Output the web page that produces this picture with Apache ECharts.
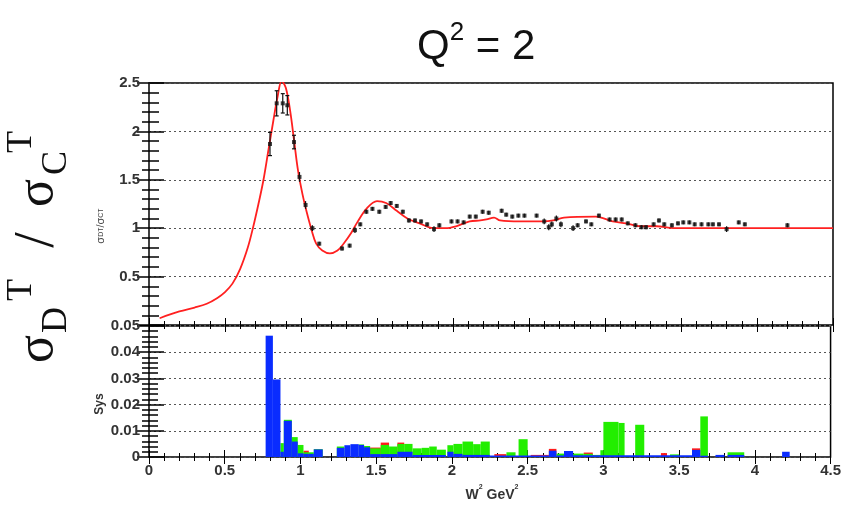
<!DOCTYPE html>
<html><head><meta charset="utf-8">
<script src="https://cdn.jsdelivr.net/npm/echarts@6/dist/echarts.min.js"></script>
<style>html,body{margin:0;padding:0;background:#fff}#c{width:844px;height:507px}</style>
</head><body><div id="c"></div>
<script>
// ---- data ----
const xTicks = [0, 0.5, 1, 1.5, 2, 2.5, 3, 3.5, 4, 4.5];
const curveX = [0.07,0.2,0.3,0.38,0.45,0.5,0.55,0.6,0.65,0.685,0.72,0.752,0.785,0.818,0.845,0.873,0.9,0.928,0.955,0.98,1.01,1.037,1.07,1.1,1.14,1.19,1.24,1.28,1.33,1.37,1.43,1.5,1.56,1.63,1.7,1.78,1.87,1.95,2.02,2.11,2.18,2.22,2.27,2.31,2.44,2.59,2.66,2.73,2.94,3.05,3.14,3.23,3.34,3.45,4.5];
const curveY = [0.07,0.14,0.18,0.22,0.28,0.34,0.43,0.58,0.8,1.01,1.25,1.49,1.8,2.11,2.35,2.52,2.45,2.22,1.9,1.6,1.35,1.17,0.98,0.84,0.77,0.74,0.77,0.84,0.95,1.06,1.2,1.28,1.26,1.18,1.1,1.05,1.0,1.0,1.02,1.07,1.08,1.09,1.11,1.08,1.07,1.07,1.08,1.11,1.12,1.07,1.05,1.02,1.02,1.0,1.0];
const ptX = [0.796,0.84,0.88,0.91,0.954,0.99,1.03,1.075,1.12,1.27,1.32,1.355,1.39,1.43,1.47,1.515,1.557,1.59,1.63,1.67,1.71,1.75,1.79,1.83,1.875,1.91,1.99,2.03,2.07,2.11,2.15,2.195,2.235,2.32,2.35,2.39,2.43,2.47,2.55,2.6,2.63,2.65,2.68,2.71,2.79,2.82,2.875,2.91,2.96,3.03,3.07,3.11,3.15,3.2,3.24,3.27,3.32,3.355,3.39,3.44,3.48,3.515,3.555,3.59,3.635,3.68,3.71,3.75,3.8,3.88,3.92,4.2];
const ptY = [1.87,2.29,2.29,2.27,1.89,1.53,1.24,1.0,0.84,0.79,0.82,0.98,1.04,1.17,1.2,1.17,1.22,1.26,1.23,1.17,1.08,1.08,1.07,1.04,0.99,1.03,1.07,1.07,1.06,1.12,1.12,1.17,1.16,1.18,1.14,1.12,1.13,1.13,1.13,1.07,1.01,1.04,1.1,1.04,1.0,1.03,1.07,1.04,1.13,1.09,1.09,1.09,1.05,1.03,1.01,1.01,1.04,1.08,1.04,1.03,1.05,1.06,1.06,1.04,1.04,1.04,1.04,1.04,0.99,1.06,1.04,1.03];
const ptErr = [0.12,0.13,0.1,0.1,0.07,0.05,0.04,0.03,0.02,0.02,0.02,0.03,0.02,0.02,0.02,0.02,0.02,0.02,0.02,0.02,0.02,0.02,0.02,0.02,0.03,0.02,0.02,0.02,0.02,0.02,0.02,0.02,0.02,0.02,0.02,0.02,0.02,0.02,0.02,0.03,0.03,0.03,0.03,0.03,0.03,0.02,0.02,0.02,0.02,0.02,0.02,0.02,0.02,0.02,0.02,0.02,0.02,0.02,0.02,0.02,0.02,0.02,0.02,0.02,0.02,0.02,0.02,0.02,0.03,0.02,0.02,0.02];
// systematic histograms: [binLow, binHigh, value]
const redBins = [[1.02,1.055,0.0024],[1.46,1.53,0.0036],[1.53,1.585,0.0055],[1.64,1.685,0.0055],[2.28,2.36,0.0011],[2.52,2.64,0.0008],[2.64,2.69,0.0031],[2.87,2.93,0.0017],[3.38,3.42,0.0015],[3.585,3.64,0.0033]];
const greenBins = [[0.868,0.89,0.0053],[0.89,0.943,0.0142],[0.943,0.982,0.0076],[0.982,1.02,0.0046],[1.02,1.055,0.0018],[1.055,1.088,0.0018],[1.088,1.147,0.003],[1.24,1.29,0.004],[1.385,1.42,0.0048],[1.42,1.46,0.0042],[1.46,1.53,0.0033],[1.53,1.585,0.0046],[1.585,1.64,0.004],[1.64,1.685,0.005],[1.685,1.74,0.005],[1.74,1.8,0.0033],[1.8,1.85,0.0035],[1.85,1.9,0.004],[1.9,1.96,0.0028],[1.97,2.01,0.0045],[2.01,2.07,0.005],[2.07,2.14,0.0059],[2.14,2.19,0.0049],[2.19,2.25,0.0059],[2.36,2.42,0.0018],[2.44,2.5,0.0068],[2.69,2.74,0.0013],[2.8,2.87,0.0013],[2.87,2.93,0.0012],[2.93,2.98,0.0008],[2.98,3.0,0.0026],[3.0,3.1,0.0134],[3.1,3.14,0.013],[3.21,3.27,0.0123],[3.44,3.5,0.001],[3.64,3.69,0.0155],[3.82,3.93,0.0018]];
const blueBins = [[0.77,0.818,0.0463],[0.818,0.868,0.0296],[0.868,0.89,0.002],[0.89,0.943,0.0138],[0.943,0.982,0.0059],[0.982,1.02,0.0014],[1.02,1.055,0.0012],[1.055,1.088,0.0012],[1.088,1.147,0.0029],[1.24,1.29,0.0035],[1.29,1.33,0.0045],[1.33,1.385,0.0049],[1.385,1.42,0.0046],[1.42,1.46,0.0037],[1.46,1.53,0.0011],[1.53,1.64,0.0011],[1.64,1.74,0.002],[1.74,1.96,0.0008],[1.97,2.01,0.002],[2.01,2.07,0.0012],[2.07,2.25,0.0008],[2.25,2.64,0.0006],[2.64,2.69,0.0024],[2.69,2.74,0.0006],[2.74,2.8,0.0023],[2.8,3.585,0.0007],[3.585,3.64,0.0027],[3.64,3.69,0.0005],[3.74,3.8,0.0008],[3.82,3.93,0.0008],[4.18,4.23,0.002]];

// ---- chart ----
const FONT = '"Liberation Sans Narrow", "Liberation Sans", sans-serif';
const SERIF = '"Liberation Serif", "DejaVu Serif", serif';
const chart = echarts.init(document.getElementById('c'));
const curveData = curveX.map((x, i) => [x, curveY[i]]);
const ptData = ptX.map((x, i) => [x, ptY[i], ptErr[i]]);

function histSeries(name, bins, color) {
  return {
    name, type: 'custom', xAxisIndex: 2, yAxisIndex: 2,
    data: bins,
    encode: { x: [0, 1], y: 2 },
    renderItem: function (params, api) {
      const p0 = api.coord([api.value(0), api.value(2)]);
      const p1 = api.coord([api.value(1), 0]);
      return { type: 'rect', shape: { x: p0[0], y: p0[1], width: p1[0] - p0[0], height: p1[1] - p0[1] }, style: { fill: color } };
    },
    z: 3
  };
}

function xAx(grid, pos, showLabel) {
  return {
    type: 'value', gridIndex: grid, position: pos, min: 0, max: 4.5, interval: 0.5,
    axisLine: { show: false },
    axisTick: { show: true, inside: true, length: 7, lineStyle: { color: '#000', width: 1 } },
    minorTick: { show: true, splitNumber: 5, length: 4, lineStyle: { color: '#000', width: 1 } },
    splitLine: { show: false },
    axisLabel: { show: showLabel, fontFamily: FONT, fontWeight: 'bold', fontSize: 15, color: '#333', margin: 6,
      formatter: v => String(v) }
  };
}
function yAx(grid, pos, min, max, interval, showLabel, split, tickLen, minorLen, labelFmt) {
  return {
    type: 'value', gridIndex: grid, position: pos, min, max, interval,
    axisLine: { show: false },
    axisTick: { show: true, inside: true, length: tickLen, lineStyle: { color: '#000', width: 1.5 } },
    minorTick: { show: true, splitNumber: 5, length: minorLen, lineStyle: { color: '#000', width: 1.5 } },
    splitLine: { show: split, lineStyle: { color: '#555', type: [2, 3], width: 1 } },
    axisLabel: { show: showLabel, fontFamily: FONT, fontWeight: 'bold', fontSize: 15, color: '#333', margin: 9, formatter: labelFmt }
  };
}
function rotText(x, y, text, size) {
  return { type: 'text', x, y, rotation: Math.PI / 2, style: {
    text, align: 'center', verticalAlign: 'middle', fontSize: size, fontFamily: SERIF, fill: '#111' } };
}

chart.setOption({
  animation: false,
  backgroundColor: '#fff',
  grid: [
    { left: 149, right: 11, top: 83, height: 242, show: true, borderColor: '#000', borderWidth: 1.5, backgroundColor: 'transparent' },
    { left: 149, right: 11, top: 326, height: 131, show: true, borderColor: '#000', borderWidth: 1.5, backgroundColor: 'transparent' }
  ],
  xAxis: [xAx(0, 'bottom', false), xAx(0, 'top', false), xAx(1, 'bottom', true), xAx(1, 'top', false)],
  yAxis: [
    yAx(0, 'left', 0, 2.5, 0.5, true, true, 15, 10, v => (v === 0 ? '' : String(v))),
    yAx(0, 'right', 0, 2.5, 0.5, false, false, 12, 7),
    yAx(1, 'left', 0, 0.05, 0.01, true, true, 15, 9, v => (Math.round(v * 100) / 100).toString()),
    yAx(1, 'right', 0, 0.05, 0.01, false, false, 12, 7)
  ],
  graphic: [
    { type: 'text', x: 417, y: 20, style: {
        text: '{a|Q}{s|2}{a| = 2}',
        rich: { a: { fontSize: 42, fontFamily: '"Liberation Sans", sans-serif', fill: '#111', lineHeight: 48, verticalAlign: 'bottom' },
                s: { fontSize: 26, fontFamily: '"Liberation Sans", sans-serif', fill: '#111', lineHeight: 48, verticalAlign: 'top', padding: [0, 0, 16, 0] } } } },
    rotText(38, 349, 'σ', 52),
    rotText(57, 320, 'D', 36),
    rotText(22, 290, 'T', 36),
    rotText(38, 240, '/', 56),
    rotText(38, 193, 'σ', 52),
    rotText(57, 163, 'C', 36),
    rotText(22, 142, 'T', 36),
    { type: 'text', x: 101, y: 226, rotation: Math.PI / 2, style: {
        text: '{m|σ}{s|D}{s|T}{m|/σ}{s|C}{s|T}', align: 'center', verticalAlign: 'middle',
        rich: { m: { fontSize: 11, fontFamily: FONT, fill: '#444' }, s: { fontSize: 7, fontFamily: FONT, fill: '#444' } } } },
    { type: 'text', x: 100, y: 404, rotation: Math.PI / 2, style: {
        text: 'Sys', align: 'center', verticalAlign: 'middle', fontSize: 12, fontWeight: 'bold', fontFamily: FONT, fill: '#333' } },
    { type: 'text', x: 492, y: 493, style: {
        text: '{a|W}{s|2}{a| GeV}{s|2}', align: 'center', verticalAlign: 'middle',
        rich: { a: { fontSize: 14, fontWeight: 'bold', fontFamily: FONT, fill: '#333', lineHeight: 18, verticalAlign: 'bottom' },
                s: { fontSize: 7, fontWeight: 'bold', fontFamily: FONT, fill: '#333', lineHeight: 18, verticalAlign: 'top' } } } }
  ],
  series: [
    { name: 'model', type: 'line', xAxisIndex: 0, yAxisIndex: 0, data: curveData, smooth: 0.35, showSymbol: false,
      lineStyle: { color: '#ff2020', width: 1.8 }, clip: true, z: 4 },
    { name: 'errors', type: 'custom', xAxisIndex: 0, yAxisIndex: 0, data: ptData, encode: { x: 0, y: 1 },
      renderItem: function (params, api) {
        const x = api.value(0), y = api.value(1), e = api.value(2);
        const top = api.coord([x, y + e]), bot = api.coord([x, y - e]);
        const st = { stroke: '#111', lineWidth: 1.2 };
        const ch = [{ type: 'line', shape: { x1: top[0], y1: top[1], x2: bot[0], y2: bot[1] }, style: st }];
        if (e > 0.05) {
          ch.push({ type: 'line', shape: { x1: top[0] - 2, y1: top[1], x2: top[0] + 2, y2: top[1] }, style: st });
          ch.push({ type: 'line', shape: { x1: bot[0] - 2, y1: bot[1], x2: bot[0] + 2, y2: bot[1] }, style: st });
        }
        return { type: 'group', children: ch };
      }, z: 5 },
    { name: 'data', type: 'scatter', xAxisIndex: 0, yAxisIndex: 0, data: ptData.map(p => [p[0], p[1]]),
      symbol: 'rect', symbolSize: 4, itemStyle: { color: '#111' }, z: 6 },
    histSeries('red', redBins, '#ff1a1a'),
    histSeries('green', greenBins, '#22ee00'),
    histSeries('blue', blueBins, '#0a2cff')
  ]
});
</script></body></html>
